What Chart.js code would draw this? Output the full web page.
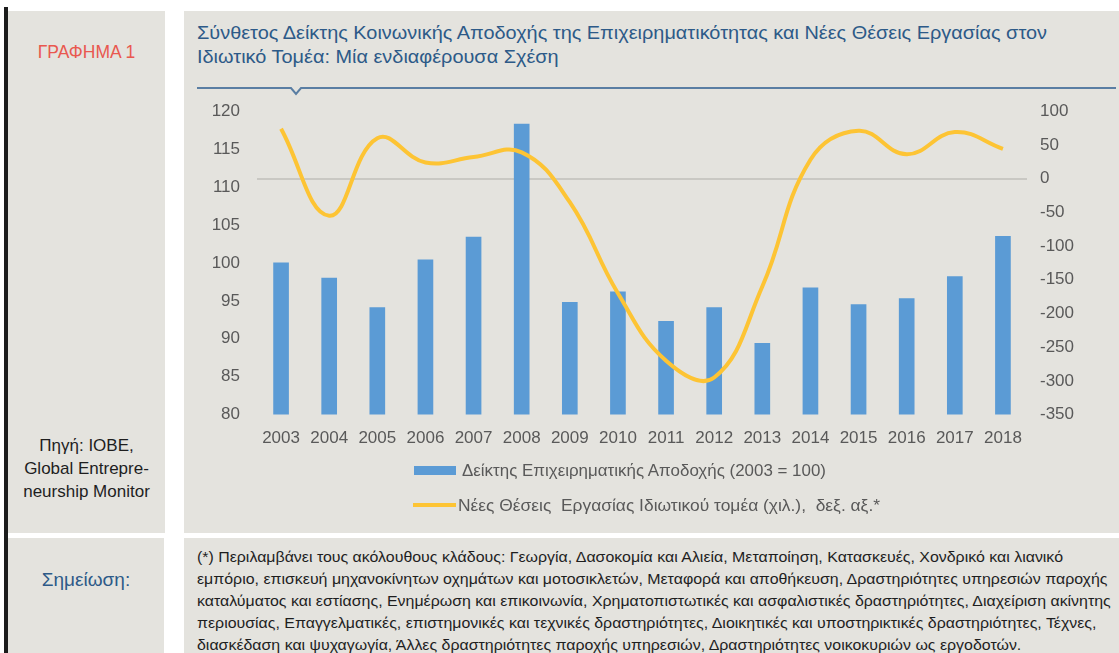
<!DOCTYPE html>
<html lang="el">
<head>
<meta charset="utf-8">
<script src="https://cdn.jsdelivr.net/npm/chart.js@4.4.1/dist/chart.umd.min.js"></script>
<style>
  body { margin: 0; width: 1119px; height: 653px; background: #fff; position: relative; overflow: hidden;
         font-family: "Liberation Sans", Arial, sans-serif; }
  .panel { position: absolute; background: #e4e3de; }
  .abs { position: absolute; white-space: nowrap; }
  #stripe { position: absolute; left: 4px; top: 7px; width: 4px; height: 646px; background: #1c1c1c; }
  #title { left: 197px; top: 21px; font-size: 18px; line-height: 24px; color: #2d5a88; transform-origin: left top; }
  #label { left: 8px; width: 157px; top: 42px; text-align: center; font-size: 17.5px; color: #e9584f; }
  #source { left: 8px; width: 157px; top: 434px; text-align: center; font-size: 17px; line-height: 23px; color: #1e1e1e; }
  #noteLabel { left: 8px; width: 156px; top: 569px; text-align: center; font-size: 19px; color: #2d5a88; }
  #note { left: 197px; top: 546px; font-size: 15px; line-height: 22px; color: #1e1e1e; transform-origin: left top; }
  #chartBox { position: absolute; left: 184px; top: 84px; width: 935px; height: 379px; }
  .legText { font-size: 16px; color: #595959; white-space: pre; transform-origin: left center; }
</style>
</head>
<body>
<div id="stripe"></div>
<div class="panel" style="left:8px;top:11px;width:157px;height:522px"></div>
<div class="panel" style="left:184px;top:11px;width:935px;height:522px"></div>
<div class="panel" style="left:8px;top:538px;width:156px;height:115px"></div>
<div class="panel" style="left:184px;top:538px;width:935px;height:115px"></div>

<div id="label" class="abs">ΓΡΑΦΗΜΑ 1</div>
<div id="title" class="abs"><span id="titleL1">Σύνθετος Δείκτης Κοινωνικής Αποδοχής της Επιχειρηματικότητας και Νέες Θέσεις Εργασίας στον</span><br>Ιδιωτικό Τομέα: Μία ενδιαφέρουσα Σχέση</div>
<svg class="abs" style="left:0;top:0" width="1119" height="100">
  <polyline points="197,88 291,88 296,94 301,88 1116,88" fill="none" stroke="#5a7ea3" stroke-width="2"/>
</svg>
<div id="source" class="abs">Πηγή: ΙΟΒΕ,<br>Global Entrepre-<br>neurship Monitor</div>
<div id="noteLabel" class="abs">Σημείωση:</div>
<div id="note" class="abs"><span id="noteL1">(*) Περιλαμβάνει τους ακόλουθους κλάδους: Γεωργία, Δασοκομία και Αλιεία, Μεταποίηση, Κατασκευές, Χονδρικό και λιανικό</span><br>εμπόριο, επισκευή μηχανοκίνητων οχημάτων και μοτοσικλετών, Μεταφορά και αποθήκευση, Δραστηριότητες υπηρεσιών παροχής<br>καταλύματος και εστίασης, Ενημέρωση και επικοινωνία, Χρηματοπιστωτικές και ασφαλιστικές δραστηριότητες, Διαχείριση ακίνητης<br>περιουσίας, Επαγγελματικές, επιστημονικές και τεχνικές δραστηριότητες, Διοικητικές και υποστηρικτικές δραστηριότητες, Τέχνες,<br>διασκέδαση και ψυχαγωγία, Άλλες δραστηριότητες παροχής υπηρεσιών, Δραστηριότητες νοικοκυριών ως εργοδοτών.</div>

<div id="chartBox"><canvas id="chart"></canvas></div>
<div id="legend"></div>

<script>
const years = ["2003", "2004", "2005", "2006", "2007", "2008", "2009", "2010",
               "2011", "2012", "2013", "2014", "2015", "2016", "2017", "2018"];
// Δείκτης Επιχειρηματικής Αποδοχής (2003 = 100), left axis
const acceptanceIndex = [100, 98, 94.1, 100.4, 103.4, 118.3, 94.8, 96.2,
                         92.3, 94.1, 89.4, 96.7, 94.5, 95.3, 98.2, 103.5];
// Νέες Θέσεις Εργασίας (χιλ.), right axis
const newJobs = [74, -55, 60, 24, 32, 39, -35, -170, -270, -295, -160, 28, 71, 36, 69, 44];

const barLabel = "Δείκτης Επιχειρηματικής Αποδοχής (2003 = 100)";
const lineLabel = "Νέες Θέσεις  Εργασίας Ιδιωτικού τομέα (χιλ.),  δεξ. αξ.*";

const tickColor = "#595959";
const tickFont = { family: "'Liberation Sans', Arial, sans-serif", size: 17 };

// stretch a text block horizontally so that one of its lines gets the wanted width
function fitWidth(el, measureEl, target) {
  const w = measureEl.getBoundingClientRect().width;
  el.style.transform = `scaleX(${target / w})`;
}
fitWidth(document.getElementById("title"), document.getElementById("titleL1"), 850);
fitWidth(document.getElementById("note"), document.getElementById("noteL1"), 866);

const ctx = document.getElementById("chart").getContext("2d");
const chart = new Chart(ctx, {
  type: "bar",
  data: {
    labels: years,
    datasets: [
      {
        type: "bar",
        label: barLabel,
        data: acceptanceIndex,
        backgroundColor: "#5b9bd5",
        barThickness: 15,
        yAxisID: "y",
        order: 1,
      },
      {
        type: "line",
        label: lineLabel,
        data: newJobs,
        borderColor: "#fdc434",
        borderWidth: 4,
        tension: 0.42,
        pointRadius: 0,
        fill: false,
        yAxisID: "y1",
        order: 0,
      },
    ],
  },
  options: {
    responsive: true,
    maintainAspectRatio: false,
    animation: false,
    layout: { padding: { top: 18, left: 0, right: 0, bottom: 0 } },
    plugins: {
      legend: { display: false },
      tooltip: { enabled: false },
    },
    scales: {
      x: {
        grid: { display: false, drawTicks: false },
        border: { display: false },
        ticks: { color: tickColor, font: tickFont, padding: 14, maxRotation: 0 },
      },
      y: {
        position: "left",
        min: 80,
        max: 120,
        grid: { display: false, drawTicks: false },
        border: { display: false },
        ticks: { stepSize: 5, color: tickColor, font: tickFont, padding: 17 },
        afterFit: (scale) => { scale.width = 73; },
      },
      y1: {
        position: "right",
        min: -350,
        max: 100,
        grid: {
          drawTicks: false,
          lineWidth: 2,
          color: (c) => (c.tick && c.tick.value === 0 ? "#c9c8c3" : "rgba(0,0,0,0)"),
        },
        border: { display: false },
        ticks: { stepSize: 50, color: tickColor, font: tickFont, padding: 13 },
        afterFit: (scale) => { scale.width = 92; },
      },
    },
  },
});

// HTML legend built from the chart datasets, stacked like the original
const legend = document.getElementById("legend");
const legendRows = [
  { top: 470, swatchLeft: 414, textLeft: 462, textWidth: 364 },
  { top: 505, swatchLeft: 413, textLeft: 458, textWidth: 422 },
];
chart.data.datasets.forEach((ds, i) => {
  const row = legendRows[i];
  const sw = document.createElement("div");
  sw.className = "abs";
  if (ds.type === "bar") {
    sw.style.cssText = `left:${row.swatchLeft}px;top:${row.top - 4}px;width:42px;height:9px;background:${ds.backgroundColor}`;
  } else {
    sw.style.cssText = `left:${row.swatchLeft}px;top:${row.top - 2}px;width:43px;height:4px;background:${ds.borderColor}`;
  }
  legend.appendChild(sw);
  const tx = document.createElement("div");
  tx.className = "abs legText";
  tx.style.left = row.textLeft + "px";
  tx.style.top = row.top - 8 + "px";
  tx.textContent = ds.label;
  legend.appendChild(tx);
  fitWidth(tx, tx, row.textWidth);
});
</script>
</body>
</html>
